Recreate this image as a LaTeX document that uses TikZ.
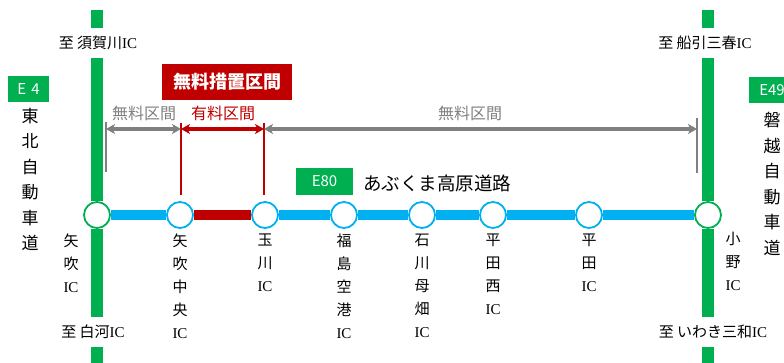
\documentclass[tikz,border=0pt]{standalone}
\usepackage{fontspec}
\setmainfont{Noto Sans CJK JP}
\newfontfamily\lat{Liberation Serif}
\newcommand{\ICtxt}{{\lat\fontsize{15}{15}\selectfont IC}}
\usetikzlibrary{arrows.meta}
\definecolor{grn}{HTML}{00B050}
\definecolor{blu}{HTML}{00B0F0}
\definecolor{rd}{HTML}{C00000}
\definecolor{gry}{HTML}{808080}
\tikzset{
  gline/.style={draw=grn, line width=12pt},
  bline/.style={draw=blu, line width=10pt},
  rline/.style={draw=rd, line width=10pt},
  ic/.style={circle, draw=blu, fill=white, line width=1.8pt, minimum size=26pt, inner sep=0pt},
  jc/.style={ic, draw=grn},
  lbl/.style={font=\fontsize{15}{23}\selectfont, align=center, inner sep=0pt, anchor=north},
  dest/.style={font=\fontsize{15}{16}\selectfont, inner xsep=0pt, inner ysep=8pt},
  badge/.style={fill=grn, text=white, inner sep=0pt, font=\fontsize{15}{15}\selectfont},
  vroad/.style={font=\fontsize{17}{25.5}\selectfont, align=center, inner sep=0pt, anchor=north},
  thinv/.style={line width=2.6pt},
  dimarrow/.style={line width=3.2pt, {Stealth[length=9pt,width=10pt,inset=2.5pt]}-{Stealth[length=9pt,width=10pt,inset=2.5pt]}},
  seclbl/.style={font=\fontsize{16}{16}\selectfont, inner sep=0pt}
}
\begin{document}
\begin{tikzpicture}[x=1pt,y=-1pt]
\useasboundingbox (0,0) rectangle (784,363);
\clip (0,0) rectangle (784,363);

% junction and IC nodes
\node[jc] (c1) at (97,215) {};
\node[ic] (c2) at (180,215) {};
\node[ic] (c3) at (265,215) {};
\node[ic] (c4) at (344,215) {};
\node[ic] (c5) at (422,215) {};
\node[ic] (c6) at (493,215) {};
\node[ic] (c7) at (589,215) {};
\node[jc] (c8) at (708,215) {};

% destination labels
\node[dest] (lt) at (98,43) {至\ 須賀川\ICtxt};
\node[dest] (lb) at (93,332) {至\ 白河\ICtxt};
\node[dest] (rt) at (705,43) {至\ 船引三春\ICtxt};
\node[dest] (rb) at (713,332) {至\ いわき三和\ICtxt};
\coordinate (ltt) at (97,10);
\coordinate (lbb) at (97,363);
\coordinate (rtt) at (708,10);
\coordinate (rbb) at (708,363);

% green expressways
\draw[gline] (ltt) -- (ltt |- lt.north);
\draw[gline] (ltt |- lt.south) -- (c1);
\draw[gline] (c1) -- (ltt |- lb.north);
\draw[gline] (ltt |- lb.south) -- (lbb);
\draw[gline] (rtt) -- (rtt |- rt.north);
\draw[gline] (rtt |- rt.south) -- (c8);
\draw[gline] (c8) -- (rtt |- rb.north);
\draw[gline] (rtt |- rb.south) -- (rbb);

% E80 line
\draw[bline] (c1) -- (c2);
\draw[rline] (c2) -- (c3);
\draw[bline] (c3) -- (c4);
\draw[bline] (c4) -- (c5);
\draw[bline] (c5) -- (c6);
\draw[bline] (c6) -- (c7);
\draw[bline] (c7) -- (c8);

% IC labels
\node[lbl] (n1) at (71,234) {矢\\吹\\\ICtxt};
\node[lbl] (n2) at (180,234) {矢\\吹\\中\\央\\\ICtxt};
\node[lbl] (n3) at (265,234) {玉\\川\\\ICtxt};
\node[lbl] (n4) at (344,234) {福\\島\\空\\港\\\ICtxt};
\node[lbl] (n5) at (422,234) {石\\川\\母\\畑\\\ICtxt};
\node[lbl] (n6) at (493,234) {平\\田\\西\\\ICtxt};
\node[lbl] (n7) at (589,234) {平\\田\\\ICtxt};
\node[lbl] (n8) at (733,232) {小\\野\\\ICtxt};

% section markers
\coordinate (g1t) at (106,122);
\coordinate (g1b) at (106,172);
\coordinate (g2t) at (697,118);
\coordinate (g2b) at (697,173);
\coordinate (r1t) at (181,123);
\coordinate (r1b) at (181,195);
\coordinate (r2t) at (264,123);
\coordinate (r2b) at (264,195);
\coordinate (ay) at (0,129);
\draw[thinv, gry] (g1t) -- (g1b);
\draw[thinv, gry] (g2t) -- (g2b);
\draw[thinv, rd] (r1t) -- (r1b);
\draw[thinv, rd] (r2t) -- (r2b);
\draw[dimarrow, gry] (g1t |- ay) -- (r1t |- ay);
\draw[dimarrow, rd] (r1t |- ay) -- (r2t |- ay);
\draw[dimarrow, gry] (r2t |- ay) -- (g2t |- ay);
\node[seclbl, text=gry] (s1) at (144,113) {無料区間};
\node[seclbl, text=rd] (s2) at (223,113) {有料区間};
\node[seclbl, text=gry] (s3) at (470,113) {無料区間};

% title box
\node[fill=rd, text=white, minimum width=130pt, minimum height=36pt, inner sep=0pt,
      font=\fontsize{18}{18}\selectfont\bfseries] (title) at (227,82) {無料措置区間};

% route badges
\node[badge, minimum width=41pt, minimum height=26pt] (e4) at (28.5,89) {E\,\,4};
\node[vroad] (tohoku) at (30,108) {東\\北\\自\\動\\車\\道};
\node[badge, minimum width=46pt, minimum height=26pt] (e49) at (772,90) {E49};
\node[vroad] (banetsu) at (772,112) {磐\\越\\自\\動\\車\\道};
\node[badge, minimum width=57pt, minimum height=27pt] (e80) at (324.5,181.5) {E80};
\node[font=\fontsize{18.5}{18.5}\selectfont, inner sep=0pt, anchor=west] (abukuma) at (363,183) {あぶくま高原道路};
\end{tikzpicture}
\end{document}
